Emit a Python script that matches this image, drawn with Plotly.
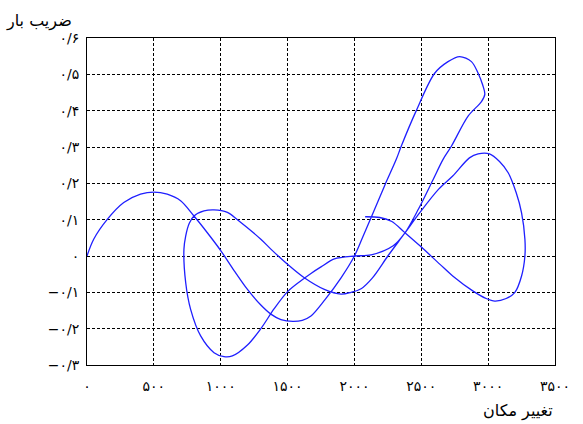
import plotly.graph_objects as go

# Displacement (x) and load factor (y), in drawing order
seg1_x = [0, 50, 150, 275, 400, 500, 600, 700, 800, 900, 1000, 1100, 1200, 1300, 1375, 1450,
          1540, 1610, 1675, 1780, 1900, 2000, 2060, 2125, 2225, 2313, 2350, 2460, 2600, 2700,
          2787, 2875, 2925, 2960, 2975, 2950]
seg1_y = [0, 0.046, 0.1, 0.147, 0.17, 0.176, 0.17, 0.152, 0.11, 0.064, 0.015, -0.04, -0.092,
          -0.135, -0.16, -0.175, -0.18, -0.177, -0.165, -0.12, -0.06, 0, 0.05, 0.106, 0.193,
          0.266, 0.302, 0.398, 0.503, 0.535, 0.549, 0.535, 0.503, 0.47, 0.445, 0.425]

seg2_x = [2850, 2725, 2663, 2588, 2480, 2375, 2290, 2125, 2000, 1850, 1750, 1675, 1600, 1500,
          1400, 1300, 1200, 1087, 1025, 950, 850, 775, 738, 725, 738, 765, 800, 875, 950, 1050,
          1125, 1300, 1375, 1500, 1625, 1775, 1900, 1975, 2050, 2135, 2250, 2375, 2490, 2630]
seg2_y = [0.385, 0.302, 0.266, 0.21, 0.13, 0.062, 0.028, 0.003, 0, -0.008, -0.03, -0.048,
          -0.068, -0.098, -0.145, -0.2, -0.245, -0.275, -0.277, -0.266, -0.22, -0.147, -0.073,
          0.019, 0.055, 0.09, 0.11, 0.124, 0.127, 0.12, 0.1, 0.046, 0.019, -0.023, -0.06,
          -0.092, -0.105, -0.1, -0.09, -0.06, 0.0, 0.062, 0.12, 0.184]

seg3_x = [2735, 2860, 2925, 3010, 3085, 3150, 3210, 3250, 3275, 3275, 3250, 3200, 3135, 3050,
          2985, 2885, 2735, 2640, 2490, 2375, 2280, 2190, 2080]
seg3_y = [0.22, 0.27, 0.281, 0.281, 0.26, 0.229, 0.174, 0.119, 0.046, 0, -0.055, -0.1, -0.117,
          -0.124, -0.117, -0.096, -0.055, -0.023, 0.028, 0.065, 0.095, 0.106, 0.108]

x_tickvals = [0, 500, 1000, 1500, 2000, 2500, 3000, 3500]
x_ticktext = ["۰", "۵۰۰", "۱۰۰۰", "۱۵۰۰", "۲۰۰۰", "۲۵۰۰", "۳۰۰۰", "۳۵۰۰"]
y_tickvals = [-0.3, -0.2, -0.1, 0, 0.1, 0.2, 0.3, 0.4, 0.5, 0.6]
y_ticktext = ["−۰/۳", "−۰/۲", "−۰/۱", "۰", "۰/۱", "۰/۲", "۰/۳", "۰/۴", "۰/۵", "۰/۶"]

x_title = "تغییر مکان"
y_title = "ضریب بار"

xs = seg1_x + seg2_x + seg3_x
ys = seg1_y + seg2_y + seg3_y

fig = go.Figure()
fig.add_trace(go.Scatter(x=xs, y=ys, mode="lines",
                         line=dict(color="#1f1fff", width=1.3, shape="spline", smoothing=0.9),
                         hoverinfo="skip", showlegend=False))

font = "DejaVu Sans"
axis_common = dict(showgrid=True, gridcolor="black", gridwidth=1, griddash="3px,2px",
                   showline=True, linecolor="black", linewidth=1, mirror=True,
                   zeroline=False, ticks="", automargin=False,
                   tickfont=dict(family=font, size=14, color="black"))

fig.update_layout(
    width=583, height=424,
    margin=dict(l=87, r=28, t=38, b=59),
    paper_bgcolor="white", plot_bgcolor="white",
    xaxis=dict(range=[0, 3500], tickvals=x_tickvals, ticktext=x_ticktext,
               ticklabelstandoff=8, **axis_common),
    yaxis=dict(range=[-0.3, 0.6], tickvals=y_tickvals, ticktext=y_ticktext,
               ticklabelstandoff=4, **axis_common),
    annotations=[
        dict(text=y_title, xref="paper", yref="paper", x=-0.177, y=1.0, yshift=17,
             xanchor="left", yanchor="middle", showarrow=False,
             font=dict(family=font, size=16, color="black")),
        dict(text=x_title, xref="paper", yref="paper", x=1.0, y=0, yshift=-46,
             xanchor="right", yanchor="middle", showarrow=False,
             font=dict(family=font, size=16, color="black")),
    ],
)

fig.write_html("out.html", config={"displayModeBar": False},
               post_script="document.body.style.margin='0';document.body.style.overflow='hidden';")
